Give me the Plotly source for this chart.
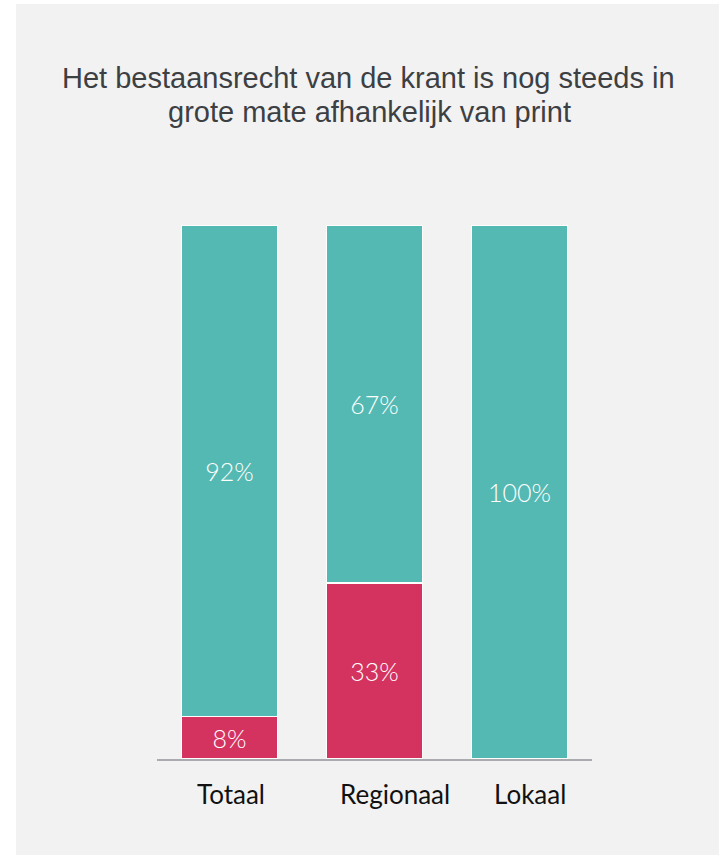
import plotly.graph_objects as go

categories = ["Totaal", "Regionaal", "Lokaal"]
teal_values = [92, 67, 100]
pink_values = [8, 33, 0]
teal_labels = ["92%", "67%", "100%"]
pink_labels = ["8%", "33%", ""]
title_lines = ["Het bestaansrecht van de krant is nog steeds in",
               "grote mate afhankelijk van print"]

TEAL = "#55b9b3"
PINK = "#d5335f"
BG = "#f2f2f2"

fig = go.Figure()
fig.add_trace(go.Bar(
    x=categories, y=pink_values, text=pink_labels,
    marker=dict(color=PINK, line=dict(color="white", width=1.5)),
    textposition="inside", insidetextanchor="middle",
    textfont=dict(family="Lato", size=25, color="white", weight=300),
    hoverinfo="skip", name="pink",
))
fig.add_trace(go.Bar(
    x=categories, y=teal_values, text=teal_labels,
    marker=dict(color=TEAL, line=dict(color="white", width=1.5)),
    textposition="inside", insidetextanchor="middle",
    textfont=dict(family="Lato", size=25, color="white", weight=300),
    hoverinfo="skip", name="teal",
))

W, H = 719, 855
L, R, T, B = 157, 127, 225, 96
pw = W - L - R
ph = H - T - B

def px_x(p):
    return (p - L) / pw

def px_y(p):
    return (H - B - p) / ph

annotations = []
for line, cx, cy in zip(title_lines, [368.5, 369.5], [78, 112]):
    annotations.append(dict(
        text=line, xref="paper", yref="paper", x=px_x(cx), y=px_y(cy),
        xanchor="center", yanchor="middle", showarrow=False,
        font=dict(family="Liberation Sans, Arial", size=29, color="#3c4043"),
    ))

# category labels (reference places them slightly off-centre)
label_shifts = [1.5, 20.5, 10]
for cat, dx in zip(categories, label_shifts):
    annotations.append(dict(
        text=cat, xref="x", yref="paper", x=cat, y=0,
        xanchor="center", yanchor="middle", yshift=-35, xshift=dx,
        showarrow=False,
        font=dict(family="Lato", size=26, color="#111111"),
    ))

fig.update_layout(
    width=W, height=H,
    barmode="stack", bargap=0.34,
    showlegend=False,
    paper_bgcolor="white", plot_bgcolor=BG,
    margin=dict(l=L, r=R, t=T, b=B),
    uniformtext=dict(minsize=10, mode="show"),
    shapes=[dict(type="rect", xref="paper", yref="paper",
                 x0=px_x(16), x1=px_x(W + 5), y0=px_y(H + 5), y1=px_y(4),
                 fillcolor=BG, line=dict(width=0), layer="below")],
    annotations=annotations,
    xaxis=dict(
        showline=True, linecolor="#a9abae", linewidth=1.5,
        ticks="", showticklabels=False,
        showgrid=False, zeroline=False, range=[-0.5, 2.5],
    ),
    yaxis=dict(visible=False, range=[0, 100], showgrid=False, zeroline=False),
)

fig.write_html("out.html", config={"displayModeBar": False},
               post_script="document.body.style.margin='0';")
